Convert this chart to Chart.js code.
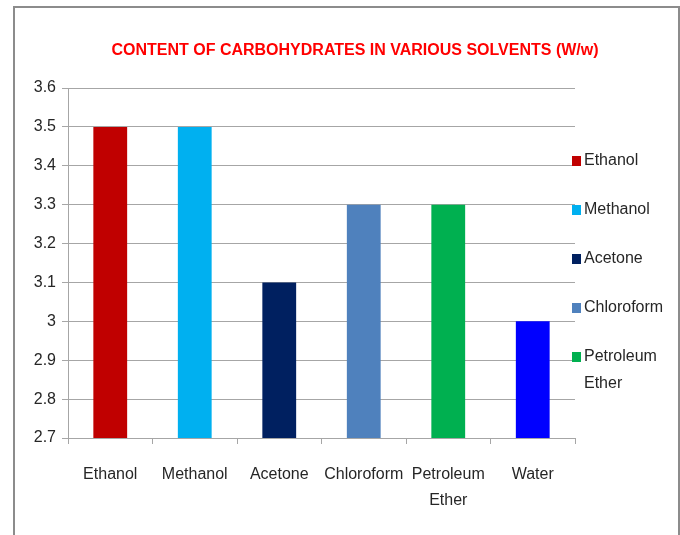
<!DOCTYPE html>
<html>
<head>
<meta charset="utf-8">
<script src="https://cdn.jsdelivr.net/npm/chart.js@4/dist/chart.umd.min.js"></script>
<style>
  html, body { margin: 0; padding: 0; background: #fff; width: 680px; height: 535px; overflow: hidden; }
  #frame { position: absolute; left: 13px; top: 6px; width: 667px; height: 540px; border: 2px solid #8c8c8c; box-sizing: border-box; }
  #c { position: absolute; left: 0; top: 0; }
</style>
</head>
<body>
<div id="frame"></div>
<canvas id="c" width="680" height="535"></canvas>
<script>
const categories = ['Ethanol', 'Methanol', 'Acetone', 'Chloroform', ['Petroleum', 'Ether'], 'Water'];
const values = [3.5, 3.5, 3.1, 3.3, 3.3, 3.0];
const barColors = ['#C00000', '#00B0F0', '#002060', '#4F81BD', '#00B050', '#0000FF'];
const legendLabels = ['Ethanol', 'Methanol', 'Acetone', 'Chloroform', ['Petroleum', 'Ether']];
const yMin = 2.7, yMax = 3.6, yStep = 0.1;

const FONT = '"Liberation Sans", Arial, sans-serif';

const sideLegend = {
  id: 'sideLegend',
  afterDraw(chart) {
    const ctx = chart.ctx;
    const area = chart.chartArea;
    ctx.save();
    ctx.font = '16px ' + FONT;
    ctx.textBaseline = 'middle';
    const x0 = area.right - 3;
    let y = 161;
    legendLabels.forEach((lab, i) => {
      ctx.fillStyle = barColors[i];
      ctx.fillRect(x0, y - 5, 9, 10);
      ctx.fillStyle = '#262626';
      const lines = Array.isArray(lab) ? lab : [lab];
      lines.forEach((ln, k) => ctx.fillText(ln, x0 + 12, y + k * 27));
      y += 49;
    });
    ctx.restore();
  }
};

new Chart(document.getElementById('c'), {
  type: 'bar',
  data: {
    labels: categories,
    datasets: [{
      data: values,
      backgroundColor: barColors,
      borderWidth: 0,
      barPercentage: 0.4,
      categoryPercentage: 1.0
    }]
  },
  options: {
    responsive: false,
    animation: false,
    layout: { padding: { left: 30, right: 0, top: 0, bottom: 0 } },
    plugins: {
      legend: { display: false },
      tooltip: { enabled: false },
      title: {
        display: true,
        text: 'CONTENT OF CARBOHYDRATES IN VARIOUS SOLVENTS (W/w)',
        color: '#FF0000',
        font: { family: FONT, size: 16, weight: 'bold', lineHeight: 1.2 },
        padding: { top: 41, bottom: 27.8 }
      }
    },
    scales: {
      x: {
        grid: { display: true, drawOnChartArea: false, drawTicks: true, tickLength: 6, color: '#a6a6a6', offset: true },
        border: { display: true, color: '#a6a6a6' },
        ticks: { color: '#262626', font: { family: FONT, size: 16, lineHeight: 1.6 }, maxRotation: 0, autoSkip: false, padding: 18 },
        afterFit(s) { s.height = 97; }
      },
      y: {
        min: yMin, max: yMax,
        ticks: {
          stepSize: yStep,
          color: '#262626',
          font: { family: FONT, size: 16 },
          padding: 6,
          callback: v => String(Number(v.toFixed(1)))
        },
        grid: { color: '#a6a6a6', tickLength: 6 },
        border: { display: true, color: '#a6a6a6' },
        afterFit(s) { s.width = 38; }
      },
      yRight: {
        position: 'right',
        display: true,
        grid: { display: false, drawTicks: false },
        border: { display: false },
        ticks: { display: false },
        afterFit(s) { s.width = 105; }
      }
    }
  },
  plugins: [sideLegend]
});
</script>
</body>
</html>
